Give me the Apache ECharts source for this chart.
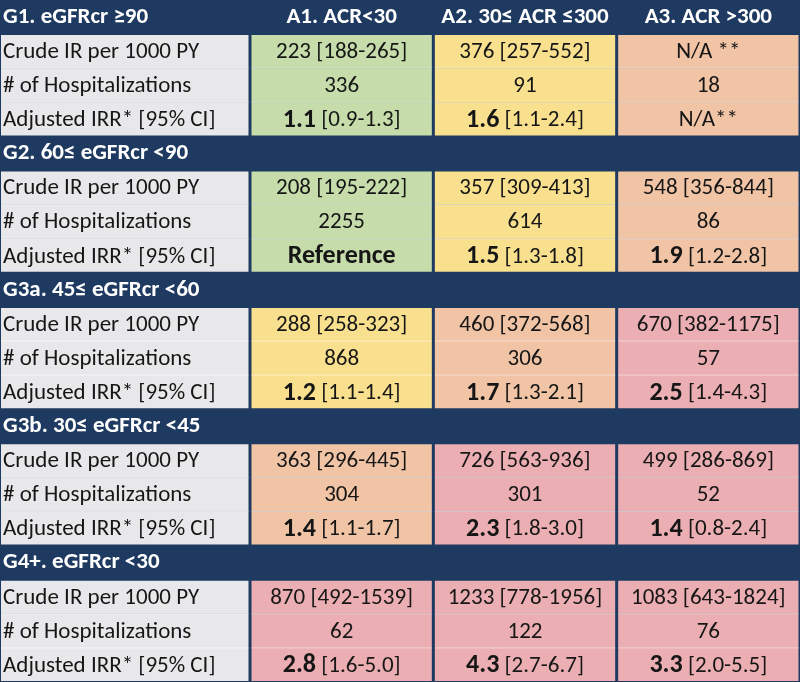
<!DOCTYPE html>
<html><head><meta charset="utf-8">
<script src="https://cdn.jsdelivr.net/npm/echarts@6/dist/echarts.min.js"></script>
<style>html,body{margin:0;padding:0;background:#1f3a60}#c{width:800px;height:682px}</style>
</head><body><div id="c"></div>
<script>
const groups = ['G1. eGFRcr ≥90', 'G2. 60≤ eGFRcr <90', 'G3a. 45≤ eGFRcr <60', 'G3b. 30≤ eGFRcr <45', 'G4+. eGFRcr <30'];
const columns = ['A1. ACR<30', 'A2. 30≤ ACR ≤300', 'A3. ACR >300'];
const rowLabels = ['Crude IR per 1000 PY', '# of Hospitalizations', 'Adjusted IRR* [95% CI]'];
const crudeIR = [
  ['223 [188-265]', '376 [257-552]', 'N/A **'],
  ['208 [195-222]', '357 [309-413]', '548 [356-844]'],
  ['288 [258-323]', '460 [372-568]', '670 [382-1175]'],
  ['363 [296-445]', '726 [563-936]', '499 [286-869]'],
  ['870 [492-1539]', '1233 [778-1956]', '1083 [643-1824]']
];
const hospitalizations = [
  [336, 91, 18],
  [2255, 614, 86],
  [868, 306, 57],
  [304, 301, 52],
  [62, 122, 76]
];
const adjIRR = [
  ['1.1', '1.6', 'N/A**'],
  ['Reference', '1.5', '1.9'],
  ['1.2', '1.7', '2.5'],
  ['1.4', '2.3', '1.4'],
  ['2.8', '4.3', '3.3']
];
const adjCI = [
  ['[0.9-1.3]', '[1.1-2.4]', ''],
  ['', '[1.3-1.8]', '[1.2-2.8]'],
  ['[1.1-1.4]', '[1.3-2.1]', '[1.4-4.3]'],
  ['[1.1-1.7]', '[1.8-3.0]', '[0.8-2.4]'],
  ['[1.6-5.0]', '[2.7-6.7]', '[2.0-5.5]']
];
const cellClass = [
  ['green', 'yellow', 'orange'],
  ['green', 'yellow', 'orange'],
  ['yellow', 'orange', 'pink'],
  ['orange', 'pink', 'pink'],
  ['pink', 'pink', 'pink']
];

const NAVY = '#1f3a60';
const palette = { green: '#c6dcaa', yellow: '#f9e08e', orange: '#f1c4a6', pink: '#ebaeb2', label: '#e8e8ea' };
const FONT = 'Carlito, Lato, sans-serif';
const TXT = '#161616';

const yCats = [];
groups.forEach((g, i) => { yCats.push('H' + i); rowLabels.forEach((r, k) => yCats.push(i + '-' + k)); });

const labelItems = [];
groups.forEach((g, i) => {
  labelItems.push([0, i * 4, 'head', g, -1]);
  rowLabels.forEach((r, k) => labelItems.push([0, i * 4 + 1 + k, 'label', r, k]));
});
const valueItems = [];
columns.forEach((c, j) => valueItems.push([j, 0, 'colhead', c, -1, '']));
groups.forEach((g, i) => {
  columns.forEach((c, j) => {
    valueItems.push([j, i * 4 + 1, 'cell', crudeIR[i][j], 0, cellClass[i][j]]);
    valueItems.push([j, i * 4 + 2, 'cell', String(hospitalizations[i][j]), 1, cellClass[i][j]]);
    const v = adjIRR[i][j];
    let t;
    if (v.indexOf('N/A') === 0) t = '{n|' + v + '}';
    else if (adjCI[i][j]) t = '{b|' + v + '} {n|' + adjCI[i][j] + '}';
    else t = '{b|' + v + '}';
    valueItems.push([j, i * 4 + 3, 'cell', t, 2, cellClass[i][j]]);
  });
});

const rich = {
  b: { fontFamily: FONT, fontWeight: 'bold', fontSize: 26, fill: TXT },
  n: { fontFamily: FONT, fontSize: 23, fill: TXT }
};

function cellRect(api, x, y, padL, padR, k) {
  const c = api.coord([x, y]);
  const s = api.size([1, 1]);
  const top = c[1] - s[1] / 2 + (k === 0 ? 1 : 0);
  const bot = c[1] + s[1] / 2 - (k === 2 ? 1 : 0);
  return { x: c[0] - s[0] / 2 + padL, y: top, width: s[0] - padL - padR, height: bot - top, cx: c[0], cy: c[1] };
}

function renderLabel(params, api) {
  const d = labelItems[params.dataIndex];
  const k = d[4];
  if (d[2] === 'head') {
    const c = api.coord([0, d[1]]);
    const s = api.size([1, 1]);
    return { type: 'text', style: { x: c[0] - s[0] / 2 + 3, y: c[1], text: d[3], align: 'left', verticalAlign: 'middle', fill: '#ffffff', font: 'bold 23px ' + FONT } };
  }
  const r = cellRect(api, 0, d[1], 1, 1.5, k);
  const children = [
    { type: 'rect', shape: { x: r.x, y: r.y, width: r.width, height: r.height }, style: { fill: palette.label } },
    { type: 'text', style: { x: r.x + 2, y: r.cy + 1, text: d[3], align: 'left', verticalAlign: 'middle', fill: TXT, font: '23px ' + FONT } }
  ];
  if (k > 0) children.push({ type: 'line', shape: { x1: r.x, y1: r.y, x2: r.x + r.width, y2: r.y }, style: { stroke: 'rgba(255,255,255,0.6)', lineWidth: 1 } });
  return { type: 'group', children };
}

function renderValue(params, api) {
  const d = valueItems[params.dataIndex];
  const k = d[4];
  if (d[2] === 'colhead') {
    const c = api.coord([d[0], d[1]]);
    return { type: 'text', style: { x: c[0], y: c[1], text: d[3], align: 'center', verticalAlign: 'middle', fill: '#ffffff', font: 'bold 23px ' + FONT } };
  }
  const r = cellRect(api, d[0], d[1], 1.5, 1.5, k);
  const children = [
    { type: 'rect', shape: { x: r.x, y: r.y, width: r.width, height: r.height }, style: { fill: palette[d[5]] } },
    { type: 'text', style: { x: r.cx, y: r.cy + 1, text: k === 2 ? d[3] : '{n|' + d[3] + '}', rich: rich, align: 'center', verticalAlign: 'middle', fill: TXT, font: '23px ' + FONT } }
  ];
  if (k > 0) children.push({ type: 'line', shape: { x1: r.x, y1: r.y, x2: r.x + r.width, y2: r.y }, style: { stroke: 'rgba(255,255,255,0.45)', lineWidth: 1 } });
  return { type: 'group', children };
}

const chart = echarts.init(document.getElementById('c'));
chart.setOption({
  backgroundColor: NAVY,
  animation: false,
  grid: [
    { left: 0, top: 0, width: 250, bottom: 0 },
    { left: 250, right: 0, top: 0, bottom: 0 }
  ],
  xAxis: [
    { type: 'category', gridIndex: 0, data: ['label'], show: false },
    { type: 'category', gridIndex: 1, data: columns, show: false }
  ],
  yAxis: [
    { type: 'category', gridIndex: 0, data: yCats, inverse: true, show: false },
    { type: 'category', gridIndex: 1, data: yCats, inverse: true, show: false }
  ],
  series: [
    { type: 'custom', xAxisIndex: 0, yAxisIndex: 0, renderItem: renderLabel, data: labelItems.map(d => [d[0], d[1]]), silent: true },
    { type: 'custom', xAxisIndex: 1, yAxisIndex: 1, renderItem: renderValue, data: valueItems.map(d => [d[0], d[1]]), silent: true }
  ]
});
</script></body></html>
